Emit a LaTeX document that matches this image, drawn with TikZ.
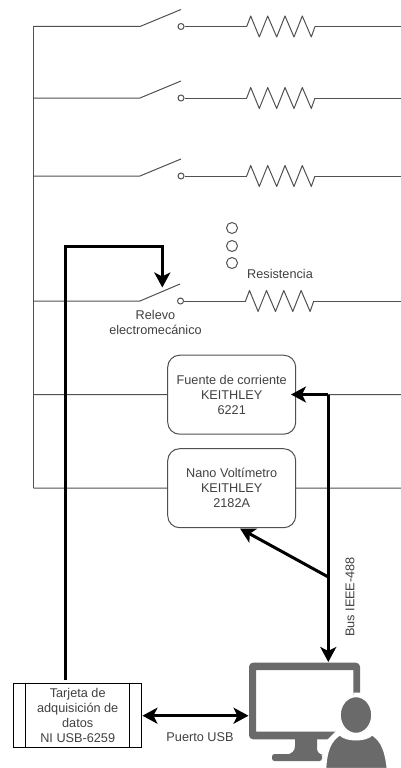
\documentclass[tikz,border=0pt]{standalone}
\usepackage{fontspec}
\setmainfont{Liberation Sans}
\usetikzlibrary{arrows.meta,positioning}
\definecolor{wire}{HTML}{505050}
\definecolor{icon}{HTML}{6A6A6A}
\tikzset{
  wire/.style={draw=wire, line width=1pt},
  bus/.style={draw=black, line width=3pt},
  busarrow/.style={bus, -{Stealth[length=15pt,width=16pt,inset=4pt]}},
  contact/.style={circle, draw=wire, line width=1pt, inner sep=0pt, minimum size=6pt},
  dot/.style={circle, draw=wire, line width=1pt, inner sep=0pt, minimum size=11pt},
  lbl/.style={font=\fontsize{12.7}{15}\selectfont, text=black!75, align=center, inner sep=0pt},
  instr/.style={lbl, draw=wire, line width=1pt, rounded corners=12pt, minimum width=128pt, minimum height=79pt},
  resistor/.pic={
    \draw[wire, line join=round] (0,0) -- (4,-10.5) -- (12.6,10.5) -- (21,-10.5) -- (30,10.5)
      -- (38.3,-10.5) -- (47.3,10.5) -- (55.6,-10.5) -- (64.6,10.5) -- (68.3,0);
  }
}

\begin{document}
\begin{tikzpicture}[x=1pt, y=-1pt, >=Stealth]
  \useasboundingbox (0,0) rectangle (401,768);

  % rail
  \coordinate (railtop) at (33.5,26.5);
  \coordinate (railbot) at (33.5,488);
  \draw[wire] (railtop) -- (railbot);

  % first row
  \coordinate (swa) at (140,26.5);
  \coordinate (blada) at (181,9.5);
  \node[contact] (ca) at (181,26.5) {};
  \coordinate (ra) at (246.7,26.5);
  \coordinate (ea) at (401,26.5);
  \draw[wire] (railtop) -- (swa) -- (blada);
  \draw[wire] (ca) -- (ra);
  \pic at (ra) {resistor};
  \draw[wire] (315,26.5) -- (ea);

  % second row
  \coordinate (lb) at (33.5,98);
  \coordinate (swb) at (140,98);
  \coordinate (bladb) at (181,81);
  \node[contact] (cb) at (181,98) {};
  \coordinate (rb) at (246.7,98);
  \coordinate (eb) at (401,98);
  \draw[wire] (lb) -- (swb) -- (bladb);
  \draw[wire] (cb) -- (rb);
  \pic at (rb) {resistor};
  \draw[wire] (315,98) -- (eb);

  % third row
  \coordinate (lc) at (33.5,176);
  \coordinate (swc) at (140,176);
  \coordinate (bladc) at (181,159);
  \node[contact] (cc) at (181,176) {};
  \coordinate (rc) at (246.7,176);
  \coordinate (ec) at (401,176);
  \draw[wire] (lc) -- (swc) -- (bladc);
  \draw[wire] (cc) -- (rc);
  \pic at (rc) {resistor};
  \draw[wire] (315,176) -- (ec);

  % dots
  \node[dot] (d1) at (232,228) {};
  \node[dot] (d2) at (232,246) {};
  \node[dot] (d3) at (232,263) {};

  % relay row
  \coordinate (ld) at (33.5,301);
  \coordinate (swd) at (140,301);
  \coordinate (bladd) at (180,284);
  \node[contact] (cd) at (180.5,301) {};
  \coordinate (rd) at (245.5,301);
  \coordinate (ed) at (401,301);
  \draw[wire] (ld) -- (swd) -- (bladd);
  \draw[wire] (cd) -- (rd);
  \pic at (rd) {resistor};
  \draw[wire] (313.8,301) -- (ed);
  \node[lbl] (res) at (280,274) {Resistencia};
  \node[lbl] (rel) at (155.5,322) {Relevo\\electromecánico};

  % instruments
  \node[instr] (src) at (231.7,394.7) {Fuente de corriente\\KEITHLEY\\6221};
  \node[instr] (nano) at (231.7,488.2) {Nano Voltímetro\\KEITHLEY\\2182A};
  \coordinate (le) at (33.5,394.5);
  \coordinate (ee) at (401,394.5);
  \coordinate (ef) at (401,488);
  \draw[wire] (le) -- (src.west);
  \draw[wire] (railbot) -- (nano.west);
  \draw[wire] (src.east) -- (ee);
  \draw[wire] (nano.east) -- (ef);

  % daq card
  \node[lbl, draw=black, line width=1pt, minimum width=128.5pt, minimum height=64.5pt] (daq) at (77.7,715.7)
    {Tarjeta de\\adquisición de\\datos\\NI USB-6259};
  \draw[black, line width=1pt] ([xshift=12.7pt]daq.north west) -- ([xshift=12.7pt]daq.south west);
  \draw[black, line width=1pt] ([xshift=-12.7pt]daq.north east) -- ([xshift=-12.7pt]daq.south east);

  % computer and user
  \fill[icon, rounded corners=2.5pt] (272,754) -- (322,754) -- (322,761) -- (272,761) -- cycle;
  \fill[icon] (295,738) -- (317,738) -- (317,748) .. controls (317,752) and (319,754) .. (323,755)
    -- (285,755) .. controls (292,754) and (295,751) .. (295,746) -- cycle;
  \fill[icon, even odd rule, rounded corners=4pt] (249,662.7) rectangle (360,739.3)
    (256,670) [sharp corners] rectangle (353.3,731.7);
  \fill[white] (336,731) -- (326,741) -- (365,741) -- (365,692.7) -- (353.3,692.7) -- (353.3,731) -- cycle;
  \fill[icon, draw=white, line width=2.5pt] (325,769) .. controls (326,752) and (329,741) .. (340,734)
    .. controls (345,741) and (367,741) .. (372,734) .. controls (383,741) and (386,752) .. (388,769) -- cycle;
  \fill[icon, draw=white, line width=2pt] (356,715) ellipse [x radius=16.2, y radius=18.8];

  % control and bus lines
  \coordinate (pcleft) at (248.5,715.7);
  \coordinate (pctop) at (328.3,662);
  \coordinate (ctl) at (65,246);
  \coordinate (ctr) at (162.3,246);
  \coordinate (cte) at (162.3,287.5);
  \coordinate (busj) at (328.3,394.5);
  \coordinate (busb) at (328.3,577);
  \coordinate (nanotip) at (240,528.5);
  \coordinate (srctip) at (291,394.5);
  \coordinate (daqtop) at (65,679.5);
  \draw[busarrow] (daqtop) -- (ctl) -- (ctr) -- (cte);
  \draw[busarrow] (busj) -- (srctip);
  \draw[busarrow] (busj) -- (pctop);
  \draw[busarrow] (busb) -- (nanotip);
  \draw[bus, {Stealth[length=15pt,width=16pt,inset=4pt]}-{Stealth[length=15pt,width=16pt,inset=4pt]}] (daq.east) -- (pcleft);

  \node[lbl, rotate=90] (buslbl) at (350,597) {Bus IEEE-488};
  \node[lbl] (usb) at (200,737.5) {Puerto USB};
\end{tikzpicture}
\end{document}
